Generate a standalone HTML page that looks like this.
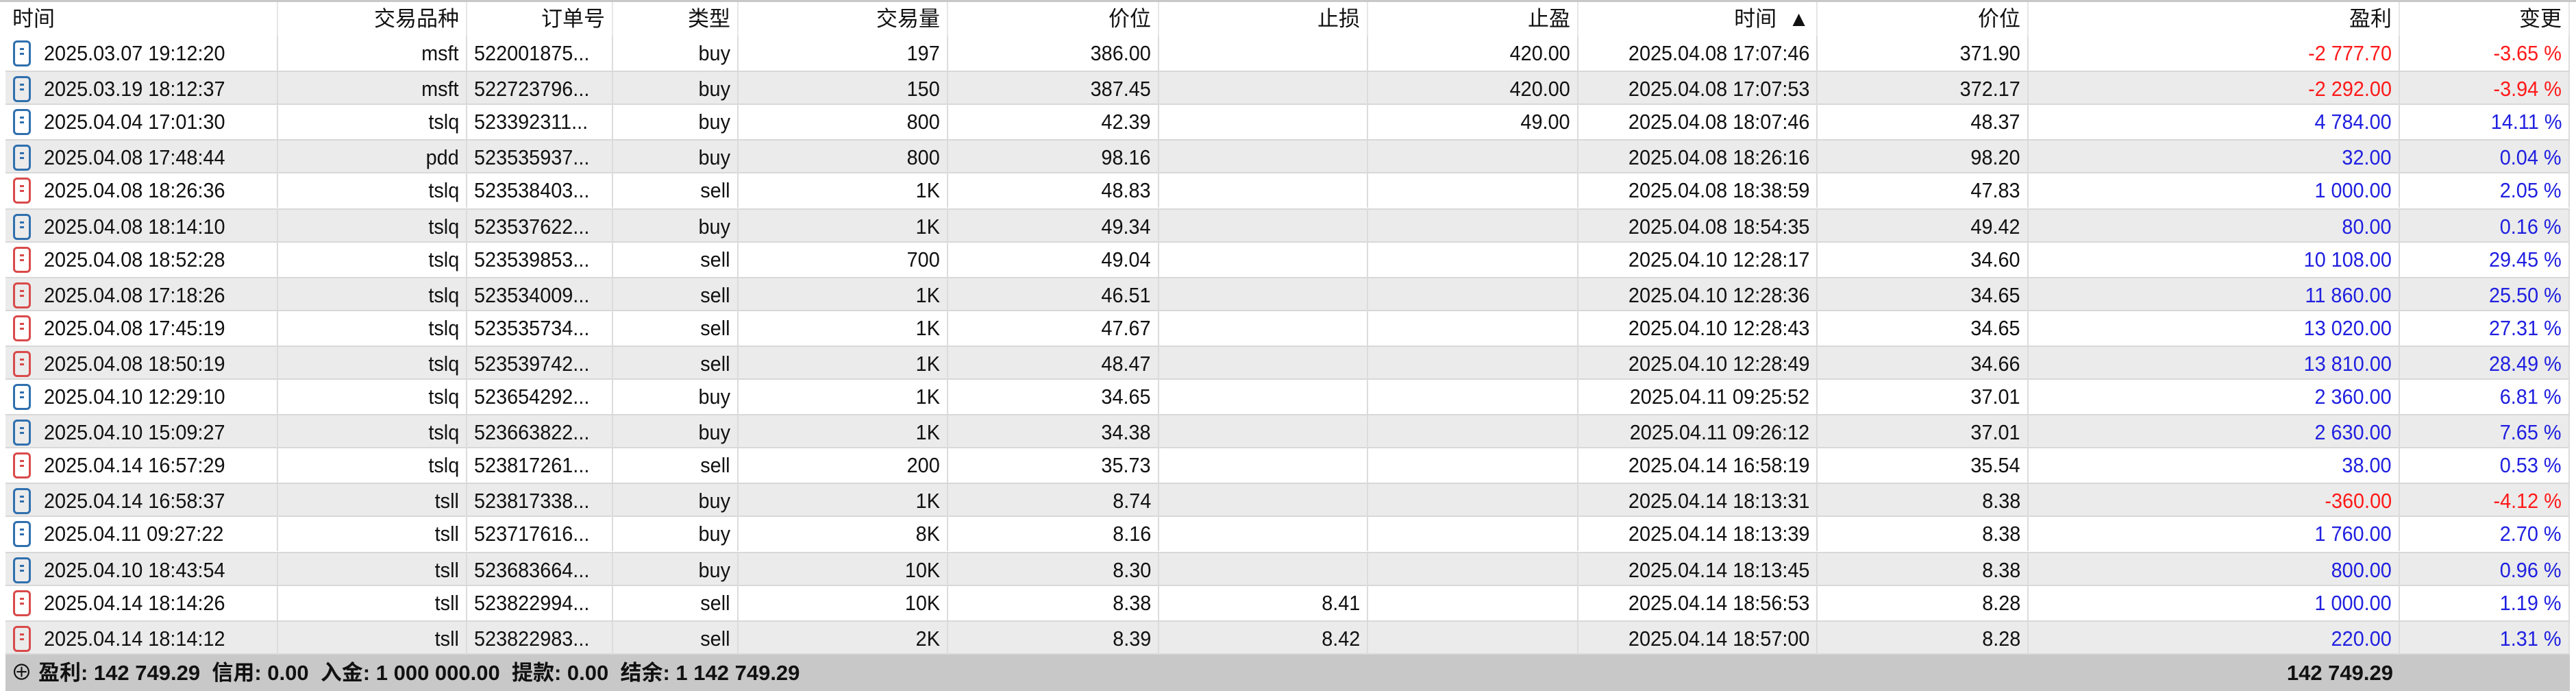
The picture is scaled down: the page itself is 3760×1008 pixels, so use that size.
<!DOCTYPE html>
<html><head><meta charset="utf-8">
<style>
html,body{margin:0;padding:0;background:#fff;}
body{width:3760px;height:1005px;overflow:hidden;position:relative;font-family:"Liberation Sans","Noto Sans CJK SC",sans-serif;font-size:31px;color:#111;}
#wrap{position:absolute;left:0;top:0;width:3760px;height:1005px;border-top:3px solid #c8c8c8;box-sizing:border-box;}
.row{position:absolute;left:8px;width:3743px;height:50px;}
.cell{position:absolute;top:0;height:50px;line-height:50px;box-sizing:border-box;border-right:2px solid #dcdcdc;padding:0 10px;white-space:nowrap;overflow:hidden;text-align:right;}
.txt{display:inline-block;transform:scaleX(0.93);}
.cell.r .txt{transform-origin:right center;}
.cell.l .txt{transform-origin:left center;}
.hdr .cell{border-right:2px solid #e6e6e6;}
.odd{background:#fff;}
.even{background:#ebebeb;border-top:2px solid #d8d8d8;border-bottom:2px solid #d8d8d8;box-sizing:border-box;}
.icon{position:absolute;left:11px;top:6px;width:26px;height:38px;border:3px solid #2f6fae;border-radius:6px;box-sizing:border-box;}
.icon::before{content:"";position:absolute;left:7px;top:8px;width:6px;height:3px;background:currentColor;box-shadow:0 7px 0 currentColor;}
.icon.b{color:#2f6fae;border-color:#2f6fae}.icon.s{color:#d94a4a;border-color:#d94a4a}
.pos{color:#2020e0}.neg{color:#ff1a1a}
#footer{position:absolute;left:8px;top:952px;width:3743px;height:53px;background:#c8c8c8;font-weight:bold;line-height:53px;}
</style></head><body>
<div id="wrap">
<div class="row hdr" id="hdr" style="top:0;height:50px;background:#fff"></div>
<div id="body"></div>
<div id="footer">
<span style="position:absolute;left:8px;font-weight:normal">⊕</span>
<span style="position:absolute;left:48px">盈利: 142 749.29&nbsp; 信用: 0.00&nbsp; 入金: 1 000 000.00&nbsp; 提款: 0.00&nbsp; 结余: 1 142 749.29</span>
<span style="position:absolute;left:0;width:3485px;text-align:right">142 749.29</span>
</div>
</div>
<script>
const edges=[8,406,682,895,1078,1384,1692,1997,2304,2653,2961,3503,3751];
const headers=["时间","交易品种","订单号","类型","交易量","价位","止损","止盈","时间 &nbsp;▲","价位","盈利","变更"];
const openTimes=["2025.03.07 19:12:20","2025.03.19 18:12:37","2025.04.04 17:01:30","2025.04.08 17:48:44","2025.04.08 18:26:36","2025.04.08 18:14:10","2025.04.08 18:52:28","2025.04.08 17:18:26","2025.04.08 17:45:19","2025.04.08 18:50:19","2025.04.10 12:29:10","2025.04.10 15:09:27","2025.04.14 16:57:29","2025.04.14 16:58:37","2025.04.11 09:27:22","2025.04.10 18:43:54","2025.04.14 18:14:26","2025.04.14 18:14:12"];
const symbols=["msft","msft","tslq","pdd","tslq","tslq","tslq","tslq","tslq","tslq","tslq","tslq","tslq","tsll","tsll","tsll","tsll","tsll"];
const orders=["522001875...","522723796...","523392311...","523535937...","523538403...","523537622...","523539853...","523534009...","523535734...","523539742...","523654292...","523663822...","523817261...","523817338...","523717616...","523683664...","523822994...","523822983..."];
const types=["buy","buy","buy","buy","sell","buy","sell","sell","sell","sell","buy","buy","sell","buy","buy","buy","sell","sell"];
const volumes=["197","150","800","800","1K","1K","700","1K","1K","1K","1K","1K","200","1K","8K","10K","10K","2K"];
const openPrices=["386.00","387.45","42.39","98.16","48.83","49.34","49.04","46.51","47.67","48.47","34.65","34.38","35.73","8.74","8.16","8.30","8.38","8.39"];
const stopLoss=["","","","","","","","","","","","","","","","","8.41","8.42"];
const takeProfit=["420.00","420.00","49.00","","","","","","","","","","","","","","",""];
const closeTimes=["2025.04.08 17:07:46","2025.04.08 17:07:53","2025.04.08 18:07:46","2025.04.08 18:26:16","2025.04.08 18:38:59","2025.04.08 18:54:35","2025.04.10 12:28:17","2025.04.10 12:28:36","2025.04.10 12:28:43","2025.04.10 12:28:49","2025.04.11 09:25:52","2025.04.11 09:26:12","2025.04.14 16:58:19","2025.04.14 18:13:31","2025.04.14 18:13:39","2025.04.14 18:13:45","2025.04.14 18:56:53","2025.04.14 18:57:00"];
const closePrices=["371.90","372.17","48.37","98.20","47.83","49.42","34.60","34.65","34.65","34.66","37.01","37.01","35.54","8.38","8.38","8.38","8.28","8.28"];
const profits=["-2 777.70","-2 292.00","4 784.00","32.00","1 000.00","80.00","10 108.00","11 860.00","13 020.00","13 810.00","2 360.00","2 630.00","38.00","-360.00","1 760.00","800.00","1 000.00","220.00"];
const changes=["-3.65 %","-3.94 %","14.11 %","0.04 %","2.05 %","0.16 %","29.45 %","25.50 %","27.31 %","28.49 %","6.81 %","7.65 %","0.53 %","-4.12 %","2.70 %","0.96 %","1.19 %","1.31 %"];
const colNames=["open-time","symbol","order-id","type","volume","open-price","stop-loss","take-profit","close-time","close-price","profit","change"];

function mkCell(row,i,html,left){
  const c=document.createElement('div');
  c.className='cell '+(left?'l':'r');
  c.style.left=(edges[i]-8)+'px';
  c.style.width=(edges[i+1]-edges[i])+'px';
  c.innerHTML=html;
  if(left)c.style.textAlign='left';
  row.appendChild(c);
  return c;
}
const hdr=document.getElementById('hdr');
headers.forEach((h,i)=>{
  const c=mkCell(hdr,i,h,i===0);
  
  
});
const body=document.getElementById('body');
for(let r=0;r<openTimes.length;r++){
  const row=document.createElement('div');
  row.className='row '+(r%2?'even':'odd');
  row.style.top=(50+r*50.1)+'px';
  
  
  const vals=[openTimes[r],symbols[r],orders[r],types[r],volumes[r],openPrices[r],stopLoss[r],takeProfit[r],closeTimes[r],closePrices[r],profits[r],changes[r]];
  vals.forEach((v,i)=>{
    let html='<span class="txt">'+v+'</span>';
    if(i===0){html='<span class="icon '+(types[r]==='buy'?'b':'s')+'"></span>'+html;}
    const c=mkCell(row,i,html,i===0||i===2);
    if(i===0){c.style.paddingLeft='56px';}
    if(i>=10){c.classList.add(v.charAt(0)==='-'?'neg':'pos');}
    
    
  });
  body.appendChild(row);
}
</script>
</body></html>
